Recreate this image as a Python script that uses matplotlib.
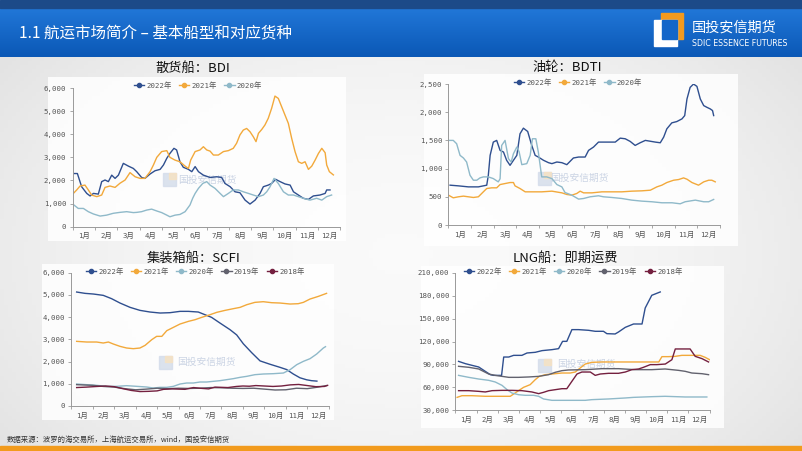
# ============================================================================|
# 航运市场简介 - 基本船型和对应货种 (四图: BDI / BDTI / SCFI / LNG)
# ============================================================================|

import numpy as np
import matplotlib.pyplot as plt
from matplotlib.lines import Line2D
from matplotlib.patches import Rectangle
from matplotlib.colors import LinearSegmentedColormap

#### Data (x = month position, 0 = start of Jan, 12 = end of Dec)
months = ['1月', '2月', '3月', '4月', '5月', '6月', '7月', '8月', '9月', '10月', '11月', '12月']

# BDI
bdi_2022_x = [0.03,0.21,0.40,0.63,0.78,0.93,1.15,1.30,1.45,1.60,1.75,1.90,2.05,2.27,2.50,2.72,2.87,3.09,3.24,3.47,3.69,3.92,4.07,4.22,4.36,4.54,4.66,4.81,4.96,5.19,5.34,5.49,5.64,5.86,6.16,6.46,6.68,6.83,7.06,7.28,7.50,7.73,7.95,8.18,8.40,8.55,8.77,8.92,9.10,9.30,9.52,9.75,9.90,10.12,10.34,10.57,10.79,11.09,11.32,11.39,11.54]
bdi_2022_y = [2300,2300,1730,1440,1330,1440,1410,1950,2020,1950,2230,2090,2230,2740,2620,2520,2380,2130,2090,2280,2420,2480,2670,2960,3170,3390,3320,2810,2570,2480,2380,2600,2380,2230,2130,2160,2130,1870,1730,1510,1470,1150,980,1150,1440,1730,1800,1870,2050,1950,1850,1800,1510,1370,1230,1180,1330,1370,1440,1590,1590]
bdi_2021_x = [0.03,0.18,0.33,0.55,0.70,0.85,1.08,1.30,1.45,1.67,1.90,2.12,2.35,2.57,2.80,3.02,3.24,3.47,3.62,3.77,3.99,4.22,4.36,4.59,4.81,5.04,5.19,5.29,5.49,5.71,5.86,6.01,6.16,6.31,6.53,6.76,6.98,7.20,7.35,7.50,7.65,7.80,7.95,8.10,8.22,8.33,8.48,8.62,8.77,8.92,9.07,9.22,9.37,9.52,9.67,9.82,9.97,10.12,10.27,10.42,10.57,10.72,10.87,11.02,11.17,11.32,11.39,11.51,11.69]
bdi_2021_y = [1440,1590,1760,1800,1590,1370,1300,1370,1700,1760,1700,1880,2020,2340,2160,2090,2090,2380,2670,3000,3250,3290,3000,2880,2810,2620,2520,2880,3250,3320,3460,3320,3270,3100,3100,3250,3290,3390,3610,3970,4180,4250,4110,3890,3680,4040,4210,4400,4690,5120,5650,5550,5190,4830,4470,3820,3250,2810,2740,2810,2480,2620,2880,3170,3390,3200,2670,2380,2240]
bdi_2020_x = [0.0,0.25,0.48,0.70,0.93,1.23,1.52,1.82,2.12,2.42,2.72,2.87,3.09,3.32,3.54,3.77,3.99,4.22,4.36,4.59,4.81,5.04,5.26,5.38,5.49,5.64,5.83,6.01,6.16,6.38,6.61,6.76,6.98,7.20,7.43,7.65,7.88,8.10,8.33,8.55,8.70,8.85,9.03,9.22,9.45,9.67,9.90,10.12,10.34,10.64,10.94,11.17,11.39,11.61]
bdi_2020_y = [980,790,790,650,550,460,500,580,620,650,610,620,650,720,760,680,610,500,430,500,530,650,940,1230,1440,1660,1870,1950,1800,1660,1440,1300,1440,1590,1590,1510,1440,1370,1300,1370,1510,1730,2090,1870,1510,1370,1370,1300,1230,1150,1230,1150,1300,1370]

# BDTI
bdti_2022_x = [0.07,0.44,0.88,1.32,1.69,1.76,1.84,1.98,2.13,2.28,2.43,2.57,2.72,2.87,3.02,3.16,3.31,3.50,3.68,3.83,3.97,4.20,4.42,4.57,4.79,5.01,5.23,5.52,5.75,6.04,6.19,6.41,6.63,6.92,7.37,7.59,7.81,8.03,8.25,8.47,8.70,9.14,9.36,9.51,9.65,9.87,10.09,10.32,10.44,10.54,10.68,10.83,10.98,11.13,11.28,11.42,11.57,11.67,11.72]
bdti_2022_y = [706,694,676,676,706,882,1235,1470,1500,1323,1294,1147,1058,1147,1235,1617,1717,1658,1411,1235,1205,1147,1105,1088,1117,1105,1070,1188,1205,1205,1323,1382,1470,1470,1470,1540,1529,1482,1411,1458,1500,1470,1458,1558,1705,1811,1834,1882,1940,2234,2440,2499,2458,2234,2117,2087,2058,2029,1940]
bdti_2021_x = [0.0,0.21,0.44,0.66,0.88,1.10,1.32,1.54,1.69,1.91,2.13,2.28,2.50,2.72,2.87,2.94,3.16,3.39,3.68,4.12,4.57,5.01,5.23,5.45,5.67,5.82,5.97,6.34,6.78,7.22,7.66,8.10,8.55,8.92,9.21,9.43,9.65,9.95,10.17,10.39,10.54,10.76,11.05,11.28,11.50,11.64,11.79]
bdti_2021_y = [529,482,500,512,500,488,500,588,647,659,659,717,735,753,753,694,647,588,588,588,600,570,541,529,559,600,570,570,588,588,588,600,606,617,676,706,753,794,806,835,812,753,706,765,794,794,765]
bdti_2020_x = [0.0,0.21,0.36,0.51,0.66,0.80,0.95,1.10,1.25,1.39,1.54,1.76,1.98,2.20,2.28,2.35,2.50,2.65,2.77,2.87,3.02,3.12,3.24,3.46,3.61,3.71,3.86,3.97,4.12,4.34,4.57,4.79,5.01,5.15,5.45,5.75,5.97,6.26,6.63,6.85,7.22,7.66,8.10,8.55,8.99,9.43,9.88,10.24,10.46,10.91,11.28,11.50,11.72]
bdti_2020_y = [1500,1500,1441,1235,1188,1117,882,794,794,835,853,853,823,765,820,1411,1500,1176,1117,1264,1382,1300,1070,1088,1235,1529,1529,1294,853,853,823,717,676,576,529,459,470,500,518,500,488,470,441,423,412,394,394,376,412,441,412,412,453]

# SCFI
scfi_2022_x = [0.25,0.64,1.03,1.49,1.88,2.27,2.74,3.20,3.67,4.14,4.60,5.07,5.46,5.92,6.23,6.54,6.93,7.40,7.71,8.02,8.41,8.80,9.26,9.73,10.04,10.35,10.66,10.97,11.20,11.45]
scfi_2022_y = [5130,5070,5040,4980,4830,4635,4440,4305,4230,4185,4200,4260,4260,4230,4110,3990,3735,3435,3200,2800,2400,2030,1880,1740,1640,1440,1270,1180,1140,1120]
scfi_2021_x = [0.25,0.72,1.18,1.49,1.73,1.96,2.27,2.58,2.89,3.20,3.44,3.75,3.98,4.22,4.45,4.76,5.07,5.46,5.77,6.08,6.47,6.78,7.17,7.55,7.87,8.18,8.56,8.95,9.34,9.73,10.20,10.58,10.82,11.13,11.52,11.90]
scfi_2021_y = [2910,2880,2880,2835,2880,2790,2685,2610,2580,2610,2730,2985,3135,3135,3390,3540,3690,3810,3885,3990,4110,4215,4305,4380,4440,4560,4665,4695,4650,4635,4590,4605,4665,4815,4935,5070]
scfi_2020_x = [0.25,0.72,1.18,1.65,2.12,2.58,3.05,3.51,3.82,4.14,4.45,4.76,5.07,5.38,5.69,6.00,6.31,6.62,6.93,7.24,7.55,7.87,8.18,8.56,8.95,9.42,9.89,10.20,10.51,10.82,11.13,11.44,11.75,11.85]
scfi_2020_y = [990,960,930,885,885,915,885,855,810,840,840,885,990,1035,1035,1080,1080,1110,1140,1185,1230,1290,1335,1410,1440,1455,1485,1635,1860,2010,2130,2340,2610,2670]
scfi_2019_x = [0.25,1.0,1.5,2.0,2.5,3.0,3.5,4.0,4.5,5.0,5.5,6.0,6.5,7.0,7.5,8.0,8.5,9.0,9.5,10.0,10.5,11.0,11.5,11.9]
scfi_2019_y = [960,930,880,850,780,730,760,800,780,800,790,800,830,820,800,790,800,760,720,730,800,780,850,920]
scfi_2018_x = [0.25,0.7,1.2,1.6,2.0,2.4,2.8,3.2,3.6,4.0,4.3,4.7,5.0,5.3,5.7,6.0,6.4,6.7,7.0,7.3,7.7,8.0,8.3,8.6,9.0,9.4,9.8,10.2,10.6,11.0,11.4,11.8,11.95]
scfi_2018_y = [830,850,880,900,870,780,700,650,660,680,750,770,760,750,830,800,770,850,840,830,880,900,890,920,900,880,900,950,970,920,870,880,930]

# LNG
lng_2022_x = [0.15,0.47,0.78,1.10,1.41,1.65,1.80,2.18,2.28,2.52,2.75,3.14,3.38,3.77,4.09,4.56,4.87,5.06,5.26,5.50,5.81,6.29,6.60,6.99,7.15,7.54,7.70,8.02,8.41,8.81,8.96,9.27,9.67]
lng_2022_y = [93900,90900,88700,86500,80800,76400,75500,75500,99600,99600,101800,101800,104900,105800,108000,109300,110600,120200,120200,135600,135600,134700,133400,133400,130300,129900,132500,138600,143000,143000,164000,180700,185100]
lng_2021_x = [0.08,0.31,0.78,1.41,1.88,2.36,2.59,2.75,2.98,3.22,3.53,3.77,3.96,4.24,4.56,5.03,5.42,5.66,5.89,6.13,6.44,6.91,7.70,8.49,9.43,9.60,9.75,10.06,10.38,10.69,11.16,11.55,11.79,12.0]
lng_2021_y = [46600,48800,48800,48000,48000,48000,48000,51000,55400,59800,63300,69900,74200,76400,77300,78600,78600,79900,85200,90400,92600,93100,93100,93100,93100,93100,100100,100100,100500,101800,101800,101800,99200,96100]
lng_2020_x = [0.15,0.63,1.10,1.57,1.88,2.20,2.44,2.67,2.98,3.30,3.69,3.93,4.16,4.56,5.34,6.13,6.44,7.23,8.02,8.41,9.27,9.90,10.85,11.87]
lng_2020_y = [75500,72900,70700,69000,66800,62400,56700,52300,50100,49300,49300,48000,44500,42700,42700,42700,43600,44500,45800,46600,47500,48000,47100,47100]
lng_2019_x = [0.15,0.63,1.10,1.57,1.88,2.20,2.52,2.98,3.46,3.93,4.40,4.71,5.03,5.34,6.13,6.91,7.70,8.49,9.27,9.90,10.53,10.85,11.16,11.64,11.95]
lng_2019_y = [87400,86100,83900,77300,75500,74200,72900,72900,73400,74200,76400,79500,81700,82600,83000,84300,84300,83000,83000,83900,82100,80800,78600,77700,76400]
lng_2018_x = [0.15,0.63,1.10,1.41,1.73,2.20,2.67,3.14,3.61,3.93,4.16,4.40,4.71,5.03,5.26,5.50,5.74,5.97,6.37,6.60,6.84,7.23,7.70,8.02,8.33,8.65,8.88,9.20,9.51,9.91,10.22,10.38,10.69,11.08,11.32,11.64,11.95]
lng_2018_y = [55400,55400,54500,53700,55400,55800,55800,55400,53700,51500,53200,55400,56700,58000,58000,67700,77300,79900,79900,75500,77300,78200,78200,79900,83000,83900,86100,89600,89600,90400,96100,110200,110200,110200,100500,97500,93100]

#### Plot settings
W, H = 802, 451
colors = {'2022年': '#2f4f8f', '2021年': '#f2a93b', '2020年': '#8fb9c9',
          '2019年': '#62626e', '2018年': '#74203f'}
cjk = ['Noto Sans CJK SC', 'DejaVu Sans']
plt.rcParams['font.family'] = ['DejaVu Sans Mono', 'Noto Sans CJK SC']
tick_color = '#555555'

fig = plt.figure(figsize=(W/100, H/100), dpi=100)

# ============================================================================|
# %% SLIDE BACKGROUND

bg = fig.add_axes([0, 0, 1, 1])
bg.set_xlim(0, W)
bg.set_ylim(H, 0)
bg.axis('off')

# body gradient
yy, xx = np.mgrid[0:1:100j, 0:1:200j]
r = ((xx - 0.5) / 0.6)**2 + ((yy - 0.5) / 0.8)**2
body_cmap = LinearSegmentedColormap.from_list('body', ['#e3e3e3', '#fafafa'])
bg.imshow(1 - r, cmap=body_cmap, extent=(0, W, H, 57), aspect='auto', zorder=0)

# header band
head_cmap = LinearSegmentedColormap.from_list('head', ['#2177d8', '#0b58b6'])
bg.imshow(np.linspace(0, 1, 50).reshape(-1, 1), cmap=head_cmap,
          extent=(0, W, 57, 8), aspect='auto', zorder=1)
bg.add_patch(Rectangle((0, 0), W, 8, color='#1c4a88', zorder=2))
bg.text(19, 34, '1.1 航运市场简介 – 基本船型和对应货种', color='white',
        fontsize=11.2, va='center', family=cjk, zorder=3)

# logo
bg.add_patch(Rectangle((661, 13), 22, 26, color='#f39a1e', zorder=3))
bg.add_patch(Rectangle((654, 20), 23, 26, color='white', zorder=4))
bg.add_patch(Rectangle((662, 20), 15, 19, color='#1466c9', zorder=5))
bg.text(692, 28, '国投安信期货', color='white', fontsize=10.2, va='center',
        family=cjk, zorder=3)
bg.text(692, 43, 'SDIC ESSENCE FUTURES', color='white', fontsize=5.7,
        va='center', family=['Liberation Sans Narrow', 'DejaVu Sans'], zorder=3)

# chart panels
for (x0, y0, x1, y1) in [(48, 77, 346, 241), (424, 74, 738, 246),
                         (42, 264, 334, 420), (421, 266, 724, 428)]:
    bg.add_patch(Rectangle((x0, y0), x1 - x0, y1 - y0, color='white',
                           alpha=0.85, lw=0, zorder=1))

# watermarks
for (ix, iy, tx, ty) in [(163, 173, 178, 180), (538, 172, 550, 178),
                         (159, 356, 177, 362), (538, 359, 557, 364)]:
    bg.add_patch(Rectangle((ix, iy), 13, 13, color='#d3dcea', alpha=0.8, zorder=2))
    bg.add_patch(Rectangle((ix + 6, iy), 7, 6, color='#f7e2c2', alpha=0.8, zorder=2))
    bg.text(tx, ty, '国投安信期货', color='#cbd4e4', fontsize=7, va='center',
            family=cjk, zorder=2)

# footer
bg.text(7, 440, '数据来源：波罗的海交易所，上海航运交易所，wind，国投安信期货',
        fontsize=5.3, color='#333333', va='center', family=cjk, zorder=3)
bg.add_patch(Rectangle((0, 446), W, 5, color='#f29b1d', zorder=3))


# ============================================================================|
# %% CHARTS

def px_axes(x0, x1, ytop, ybot):
    return fig.add_axes([x0/W, 1 - ybot/H, (x1 - x0)/W, (ybot - ytop)/H])


def draw_chart(ax, series, ylim, yticks, title, title_xy, legend_xy):
    for label, x, y in series:
        ax.plot(x, y, color=colors[label], lw=1.0, solid_joinstyle='round')
    ax.set_facecolor('none')
    ax.set_xlim(0, 12)
    ax.set_ylim(*ylim)
    ax.set_yticks(yticks)
    ax.set_yticklabels(['{:,}'.format(v) for v in yticks])
    ax.set_xticks(np.arange(0.5, 12, 1))
    ax.set_xticklabels(months)
    ax.set_xticks(np.arange(0, 13, 1), minor=True)
    ax.tick_params(axis='x', which='major', length=0, pad=4)
    ax.tick_params(axis='x', which='minor', length=2.5, color='#999999', width=0.6)
    ax.tick_params(axis='y', length=2.5, color='#999999', width=0.6, pad=2)
    ax.tick_params(labelsize=5.3, labelcolor=tick_color)
    for s in ['top', 'right']:
        ax.spines[s].set_visible(False)
    for s in ['left', 'bottom']:
        ax.spines[s].set_color('#999999')
        ax.spines[s].set_linewidth(0.7)
    # title and legend
    bg.text(title_xy[0], title_xy[1], title, fontsize=9.5, ha='center',
            va='center', family=cjk, color='#111111', zorder=3)
    handles = [Line2D([], [], color=colors[s[0]], lw=1.0, marker='o', markersize=3)
               for s in series]
    fig.legend(handles, [s[0] for s in series], loc='center',
               bbox_to_anchor=(legend_xy[0]/W, 1 - legend_xy[1]/H),
               ncol=len(series), frameon=False, fontsize=5.3, labelcolor=tick_color,
               handlelength=1.4, handletextpad=0.3, columnspacing=1.0,
               borderpad=0, borderaxespad=0)


#### BDI
ax1 = px_axes(72.7, 340.3, 88, 226.7)
draw_chart(ax1, [('2022年', bdi_2022_x, bdi_2022_y),
                 ('2021年', bdi_2021_x, bdi_2021_y),
                 ('2020年', bdi_2020_x, bdi_2020_y)],
           (0, 6000), [0, 1000, 2000, 3000, 4000, 5000, 6000],
           '散货船：BDI', (193, 68), (198, 85))

#### BDTI
ax2 = px_axes(448.5, 720, 84, 225)
draw_chart(ax2, [('2022年', bdti_2022_x, bdti_2022_y),
                 ('2021年', bdti_2021_x, bdti_2021_y),
                 ('2020年', bdti_2020_x, bdti_2020_y)],
           (0, 2500), [0, 500, 1000, 1500, 2000, 2500],
           '油轮：BDTI', (567, 68), (578, 82))

#### SCFI
ax3 = px_axes(71.3, 328.7, 272.7, 406)
draw_chart(ax3, [('2022年', scfi_2022_x, scfi_2022_y),
                 ('2021年', scfi_2021_x, scfi_2021_y),
                 ('2020年', scfi_2020_x, scfi_2020_y),
                 ('2019年', scfi_2019_x, scfi_2019_y),
                 ('2018年', scfi_2018_x, scfi_2018_y)],
           (0, 6000), [0, 1000, 2000, 3000, 4000, 5000, 6000],
           '集装箱船：SCFI', (193, 258), (195, 271))

#### LNG
ax4 = px_axes(455.4, 709.6, 273, 410)
draw_chart(ax4, [('2022年', lng_2022_x, lng_2022_y),
                 ('2021年', lng_2021_x, lng_2021_y),
                 ('2020年', lng_2020_x, lng_2020_y),
                 ('2019年', lng_2019_x, lng_2019_y),
                 ('2018年', lng_2018_x, lng_2018_y)],
           (30000, 210000), [30000, 60000, 90000, 120000, 150000, 180000, 210000],
           'LNG船：即期运费', (565, 258), (573, 271))

fig.savefig('out.png', dpi=100)
